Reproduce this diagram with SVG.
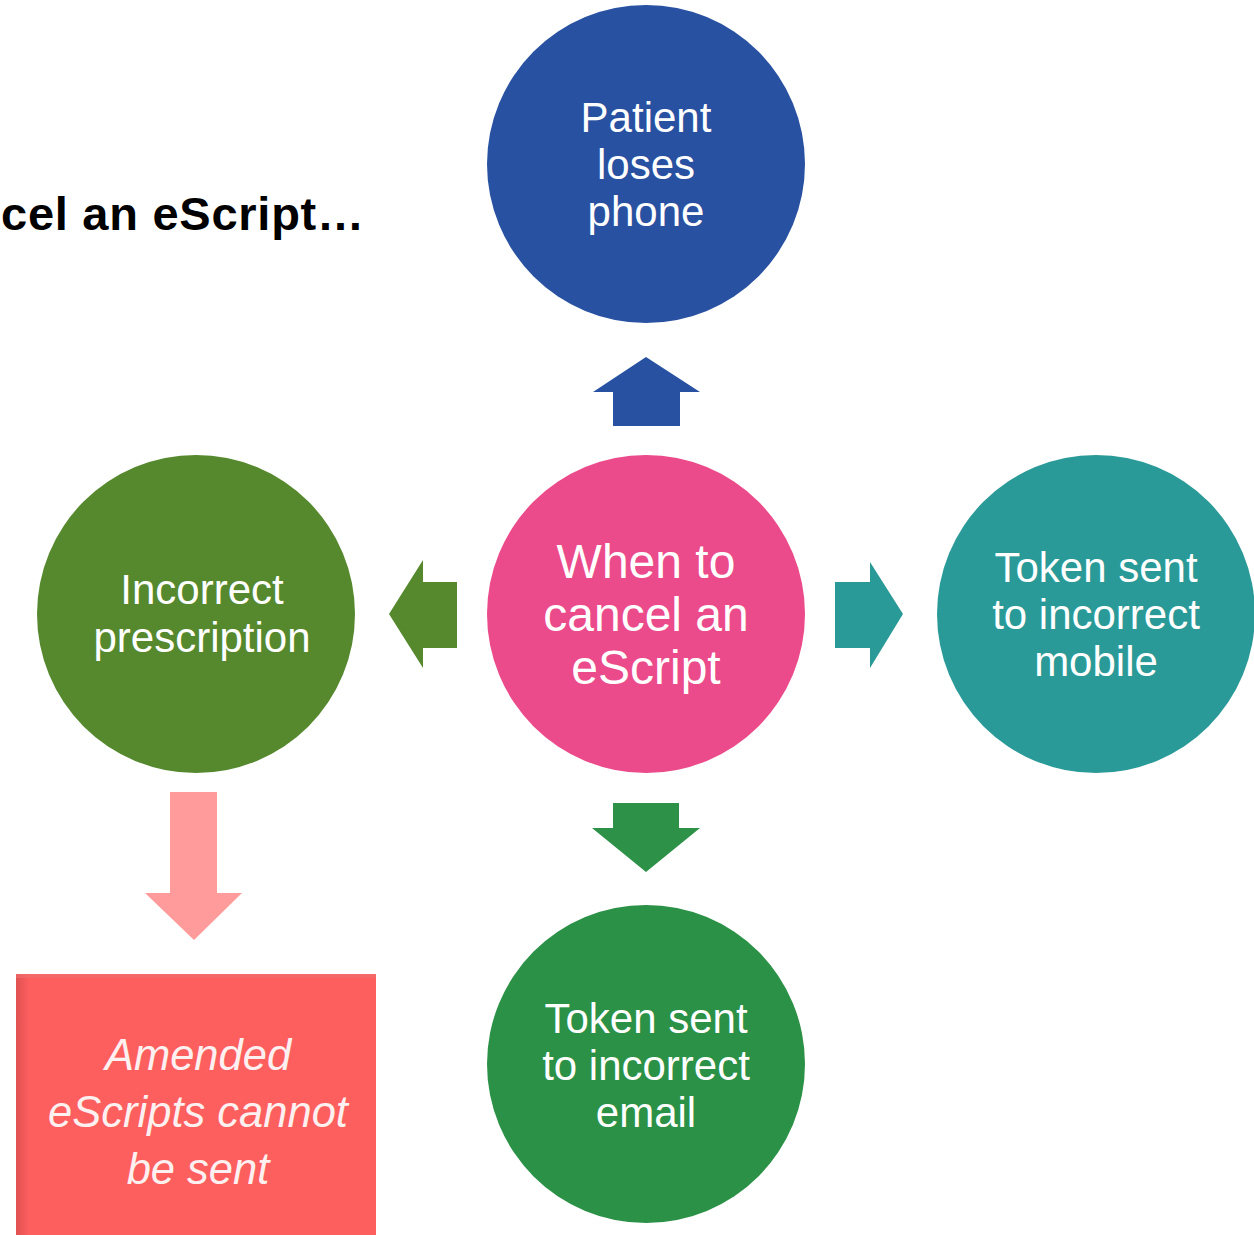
<svg xmlns="http://www.w3.org/2000/svg" width="1254" height="1235" viewBox="0 0 1254 1235">
<style>
.t{font-family:"Liberation Sans",Arial,sans-serif;fill:#fff;text-anchor:middle}
.c42{font-size:42px}
.c48{font-size:48px}
.it{font-size:43.5px;font-style:italic;fill:#fdf0f0}
.title{font-family:"Liberation Sans",Arial,sans-serif;font-weight:bold;font-size:47px;fill:#000}
</style>
<defs>
<linearGradient id="bevL" x1="0" y1="0" x2="1" y2="0">
<stop offset="0" stop-color="#d94e4e"/><stop offset="1" stop-color="#ff5f5f"/>
</linearGradient>
</defs>
<rect width="1254" height="1235" fill="#fff"/>
<text class="title" x="1" y="230" textLength="363" lengthAdjust="spacing">cel an eScript…</text>
<g id="connectors">
<polygon id="arrow-up" points="646,357 700,392 680,392 680,426 613,426 613,392 593,392" fill="#2851a1"/>
<polygon id="arrow-left" points="389,614 423,560 423,582 457,582 457,648 423,648 423,668" fill="#56892e"/>
<polygon id="arrow-right" points="903,614 870,562 870,582 835,582 835,648 870,648 870,668" fill="#2a9a98"/>
<polygon id="arrow-down" points="646,872 700,828 679,828 679,803 613,803 613,828 592,828" fill="#2e9148"/>
<polygon id="arrow-pink" points="194,940 242,893 217,893 217,792 170,792 170,893 145,893" fill="#ff9b9b"/>
</g>
<g id="node-top">
<circle cx="646" cy="164" r="159" fill="#2851a1"/>
<text class="t c42"><tspan x="646" y="132">Patient</tspan><tspan x="646" y="179">loses</tspan><tspan x="646" y="226">phone</tspan></text>
</g>
<g id="node-center">
<circle cx="646" cy="614" r="159" fill="#eb4a8b"/>
<text class="t c48"><tspan x="646" y="578">When to</tspan><tspan x="646" y="631">cancel an</tspan><tspan x="646" y="684">eScript</tspan></text>
</g>
<g id="node-left">
<circle cx="196" cy="614" r="159" fill="#56892e"/>
<text class="t c42"><tspan x="202" y="604">Incorrect</tspan><tspan x="202" y="652">prescription</tspan></text>
</g>
<g id="node-right">
<circle cx="1096" cy="614" r="159" fill="#2a9a98"/>
<text class="t c42"><tspan x="1096" y="582">Token sent</tspan><tspan x="1096" y="629">to incorrect</tspan><tspan x="1096" y="676">mobile</tspan></text>
</g>
<g id="node-bottom">
<circle cx="646" cy="1064" r="159" fill="#2b9146"/>
<text class="t c42"><tspan x="646" y="1033">Token sent</tspan><tspan x="646" y="1080">to incorrect</tspan><tspan x="646" y="1127">email</tspan></text>
</g>
<g id="node-box">
<rect x="16" y="974" width="360" height="261" fill="#fd5f5f"/>
<rect x="16" y="974" width="14" height="261" fill="url(#bevL)" opacity="0.8"/>
<rect x="16" y="974" width="360" height="4" fill="#f07070" opacity="0.6"/>
<text class="t it"><tspan x="198" y="1070">Amended</tspan><tspan x="198" y="1127">eScripts cannot</tspan><tspan x="198" y="1184">be sent</tspan></text>
</g>
</svg>
